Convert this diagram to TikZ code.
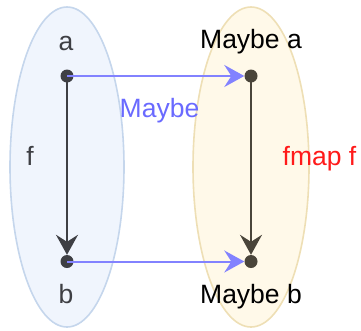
\documentclass[tikz,border=0pt]{standalone}
\usepackage{fontspec}
\setmainfont{Liberation Sans}
\usetikzlibrary{arrows.meta}
\definecolor{lfill}{HTML}{F0F5FD}
\definecolor{ldraw}{HTML}{C5D6EC}
\definecolor{rfill}{HTML}{FFF9E9}
\definecolor{rdraw}{HTML}{EEDFB5}
\definecolor{darkl}{HTML}{3E3F44}
\definecolor{darkr}{HTML}{4A453A}
\definecolor{bluea}{HTML}{8282FF}
\definecolor{bluet}{HTML}{6A6AFF}
\definecolor{redt}{HTML}{FF1A1A}
\tikzset{
  dot/.style={circle, fill=#1, inner sep=0pt, minimum size=13pt},
  lbl/.style={font=\fontsize{26.5}{30}\selectfont, anchor=base, inner sep=0pt},
  tip/.style={-{Stealth[length=20pt,width=22pt,inset=7pt]}, line width=2pt},
}
\begin{document}
\begin{tikzpicture}[x=1pt,y=-1pt]
\useasboundingbox (0,0) rectangle (361,330);
\draw[fill=lfill, draw=ldraw, line width=1.6pt] (67,167) ellipse [x radius=57, y radius=160];
\draw[fill=rfill, draw=rdraw, line width=1.6pt] (251,167) ellipse [x radius=58, y radius=160];
\node[dot=darkl] (a) at (67,76) {};
\node[dot=darkl] (b) at (67,261.5) {};
\node[dot=darkr] (ma) at (251,76) {};
\node[dot=darkr] (mb) at (251,261.5) {};
\node[lbl, text=darkl] (la) at (66,50) {a};
\node[lbl, text=darkl] (lb) at (66,303) {b};
\node[lbl, text=black] (lma) at (251,48) {Maybe a};
\node[lbl, text=black] (lmb) at (251,303) {Maybe b};
\node[lbl, text=darkl] (lf) at (30,165) {f};
\node[lbl, text=bluet] (lmaybe) at (159.5,117) {Maybe};
\node[lbl, text=redt] (lfmap) at (319.5,165) {fmap f};
\draw[tip, draw=darkl] (a.center) -- (b);
\draw[tip, draw=darkr] (ma.center) -- (mb);
\draw[tip, draw=bluea] (a.center) -- (ma);
\draw[tip, draw=bluea] (b.center) -- (mb);
\end{tikzpicture}
\end{document}
